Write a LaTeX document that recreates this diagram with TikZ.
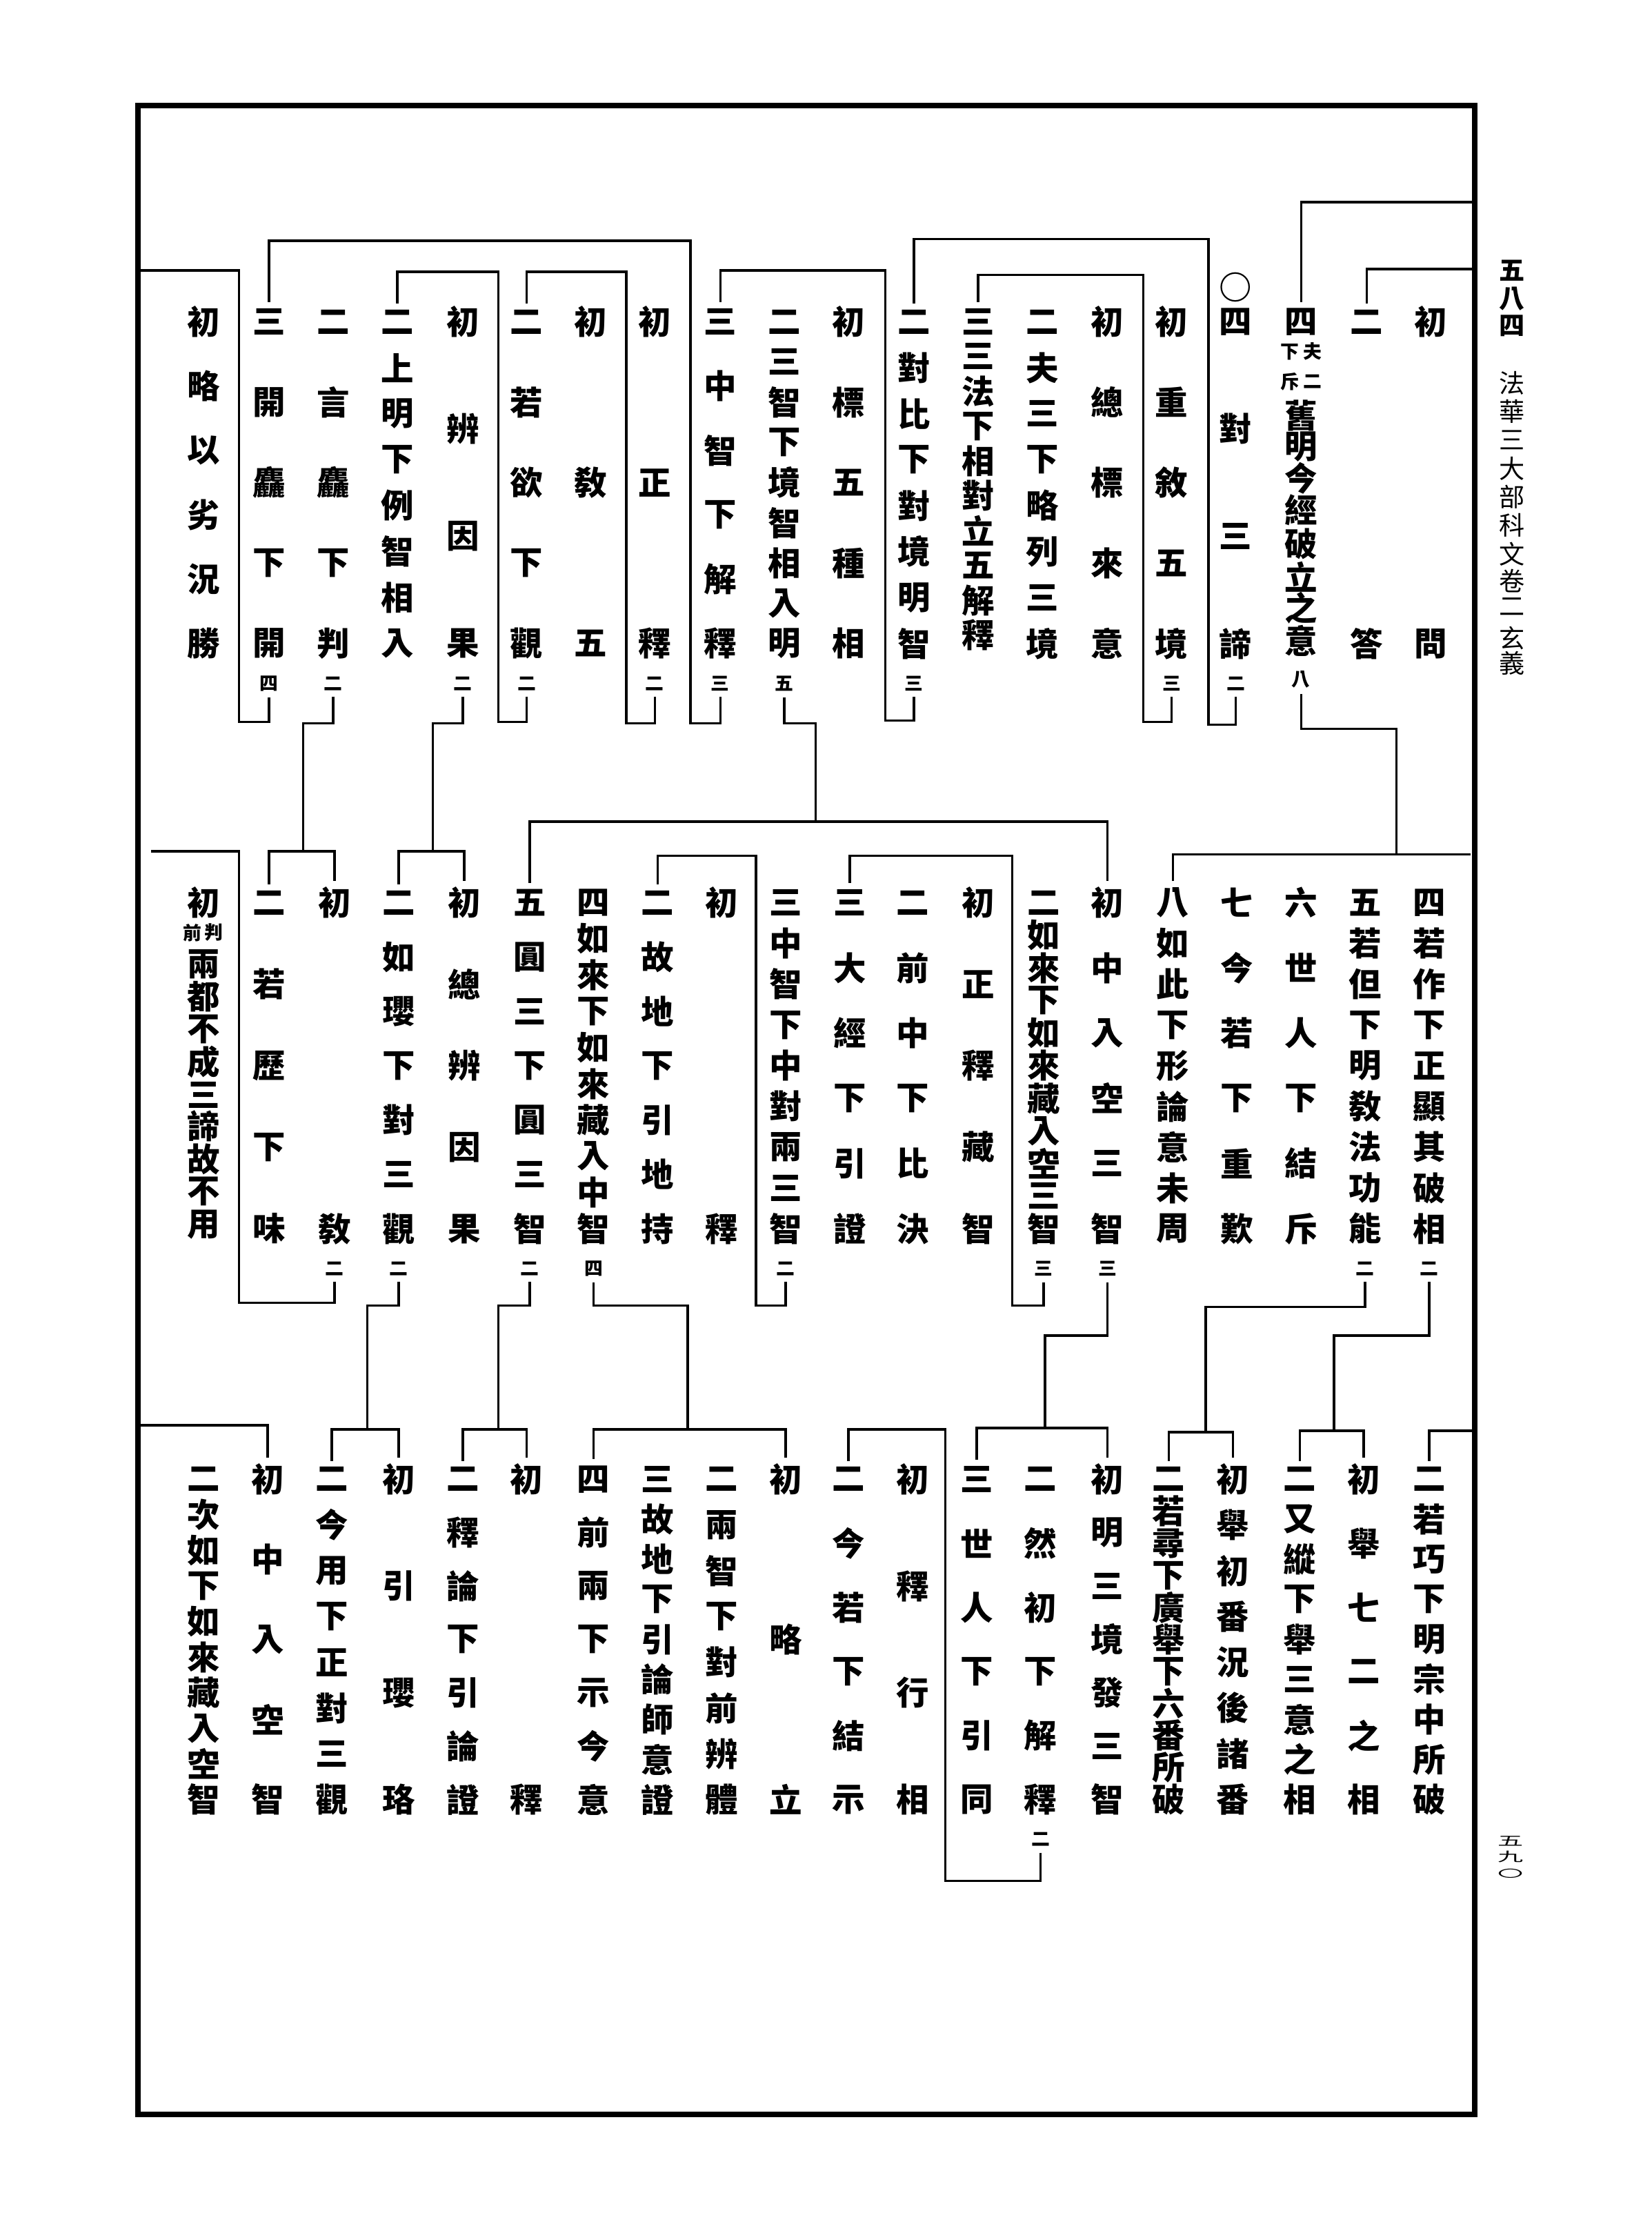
\documentclass[tikz,border=0pt]{standalone}
\usepackage{fontspec}
\usepackage{graphicx}
\newfontfamily\cjk{Noto Sans CJK TC}
\newcommand\vcol[6]{%
  \foreach \c [count=\k] in {#5} {\xdef\vcN{\k}}%
  \foreach \c [count=\k from 0] in {#5} {%
    \node[ch] (#1-\k) at (#2,{#3+\k*#4/(\vcN-1)}) {\c};}%
  \if\relax\detokenize{#6}\relax\else
    \node[sm] (#1-s) at (#2,{#3+#4+28}) {#6};\fi}
\begin{document}
\begin{tikzpicture}[x=0.5pt,y=-0.5pt,
  ch/.style={inner sep=0pt,font=\cjk\bfseries\fontsize{11.5}{11.5}\selectfont},
  sm/.style={inner sep=0pt,font=\cjk\bfseries\fontsize{6.5}{6.5}\selectfont},
  hd/.style={inner sep=0pt,font=\cjk\fontsize{9}{9}\selectfont},
  ln/.style={line width=0.85pt}]
\useasboundingbox (0,0) rectangle (1160,1567);
\fill[white] (0,0) rectangle (1160,1567);
\draw[line width=2pt] (97,74) rectangle (1036,1485);

% header
\foreach \c/\yy [count=\k] in {五/190,八/210,四/229}
  \node[hd,font=\cjk\bfseries\fontsize{9}{9}\selectfont] (hp\k) at (1062,\yy) {\c};
\foreach \c/\yy [count=\k] in {法/269,華/289,三/309,大/329,部/349,科/369,文/389,卷/408,二/426,玄/448,義/466}
  \node[hd] (ht\k) at (1062,\yy) {\c};
\node[hd] (pn1) at (1061,1293) {\scalebox{1}[0.5]{五}};
\node[hd] (pn2) at (1061,1304) {\scalebox{1}[0.5]{九}};
\node[hd] (pn3) at (1061,1316) {\scalebox{1}[0.4]{〇}};

% ---------------- tier 1
\vcol{t1a}{1005}{226}{226}{初,問}{}
\vcol{t1b}{960}{226}{226}{二,答}{}
\node[ch] (t1c-0) at (914,226) {四};
\node[sm] (t1c-a1) at (922,247) {夫};
\node[sm] (t1c-a2) at (922,268) {二};
\node[sm] (t1c-b1) at (906,247) {下};
\node[sm] (t1c-b2) at (906,268) {斥};
\foreach \c/\yy [count=\k] in {舊/292,明/314,今/336,經/358,破/382,立/405,之/427,意/450}
  \node[ch] (t1c-\k) at (914,\yy) {\c};
\node[sm] (t1c-s) at (914,477) {八};
\node[ch] (t1d-o) at (868,202) {○};
\vcol{t1d}{868}{226}{226}{四,對,三,諦}{二}
\vcol{t1e}{823}{226}{226}{初,重,敘,五,境}{三}
\vcol{t1f}{778}{226}{226}{初,總,標,來,意}{}
\vcol{t1g}{732}{226}{226}{二,夫,三,下,略,列,三,境}{}
\vcol{t1h}{687}{226}{220}{三,三,法,下,相,對,立,五,解,釋}{}
\vcol{t1i}{642}{226}{226}{二,對,比,下,對,境,明,智}{三}
\vcol{t1j}{596}{226}{226}{初,標,五,種,相}{}
\vcol{t1k}{551}{226}{226}{二,三,智,下,境,智,相,入,明}{五}
\vcol{t1l}{506}{226}{226}{三,中,智,下,解,釋}{三}
\vcol{t1m}{460}{226}{226}{初,正,釋}{二}
\vcol{t1n}{415}{226}{226}{初,敎,五}{}
\vcol{t1o}{370}{226}{226}{二,若,欲,下,觀}{二}
\vcol{t1p}{325}{226}{226}{初,辨,因,果}{二}
\vcol{t1q}{279}{226}{226}{二,上,明,下,例,智,相,入}{}
\vcol{t1r}{234}{226}{226}{二,言,麤,下,判}{二}
\vcol{t1s}{189}{226}{226}{三,開,麤,下,開}{四}
\vcol{t1t}{143}{226}{226}{初,略,以,劣,況,勝}{}

% ---------------- tier 2
\vcol{t2a}{1004}{634}{229}{四,若,作,下,正,顯,其,破,相}{二}
\vcol{t2b}{959}{634}{229}{五,若,但,下,明,敎,法,功,能}{二}
\vcol{t2c}{914}{634}{229}{六,世,人,下,結,斥}{}
\vcol{t2d}{869}{634}{229}{七,今,若,下,重,歎}{}
\vcol{t2e}{824}{634}{229}{八,如,此,下,形,論,意,未,周}{}
\vcol{t2f}{778}{634}{229}{初,中,入,空,三,智}{三}
\vcol{t2g}{733}{634}{229}{二,如,來,下,如,來,藏,入,空,三,智}{三}
\vcol{t2h}{687}{634}{229}{初,正,釋,藏,智}{}
\vcol{t2i}{641}{634}{229}{二,前,中,下,比,決}{}
\vcol{t2j}{597}{634}{229}{三,大,經,下,引,證}{}
\vcol{t2k}{552}{634}{229}{三,中,智,下,中,對,兩,三,智}{二}
\vcol{t2l}{507}{634}{229}{初,釋}{}
\vcol{t2m}{462}{634}{229}{二,故,地,下,引,地,持}{}
\vcol{t2n}{417}{634}{229}{四,如,來,下,如,來,藏,入,中,智}{四}
\vcol{t2o}{372}{634}{229}{五,圓,三,下,圓,三,智}{二}
\vcol{t2p}{326}{634}{229}{初,總,辨,因,果}{}
\vcol{t2q}{280}{634}{229}{二,如,瓔,下,對,三,觀}{二}
\vcol{t2r}{235}{634}{229}{初,敎}{二}
\vcol{t2s}{189}{634}{229}{二,若,歷,下,味}{}
\node[ch] (t2t-0) at (143,634) {初};
\node[sm] (t2t-a) at (150,655) {判};
\node[sm] (t2t-b) at (135,655) {前};
\foreach \c/\yy [count=\k] in {兩/677,都/700,不/723,成/746,三/769,諦/791,故/814,不/837,用/860}
  \node[ch] (t2t-\k) at (143,\yy) {\c};

% ---------------- tier 3
\vcol{t3a}{1004}{1039}{225}{二,若,巧,下,明,宗,中,所,破}{}
\vcol{t3b}{958}{1039}{225}{初,舉,七,二,之,相}{}
\vcol{t3c}{913}{1039}{225}{二,又,縱,下,舉,三,意,之,相}{}
\vcol{t3d}{866}{1039}{225}{初,舉,初,番,況,後,諸,番}{}
\vcol{t3e}{821}{1039}{225}{二,若,尋,下,廣,舉,下,六,番,所,破}{}
\vcol{t3f}{778}{1039}{225}{初,明,三,境,發,三,智}{}
\vcol{t3g}{731}{1039}{225}{二,然,初,下,解,釋}{二}
\vcol{t3h}{686}{1039}{225}{三,世,人,下,引,同}{}
\vcol{t3i}{641}{1039}{225}{初,釋,行,相}{}
\vcol{t3j}{596}{1039}{225}{二,今,若,下,結,示}{}
\vcol{t3k}{552}{1039}{225}{初,略,立}{}
\vcol{t3l}{507}{1039}{225}{二,兩,智,下,對,前,辨,體}{}
\vcol{t3m}{462}{1039}{225}{三,故,地,下,引,論,師,意,證}{}
\vcol{t3n}{417}{1039}{225}{四,前,兩,下,示,今,意}{}
\vcol{t3o}{370}{1039}{225}{初,釋}{}
\vcol{t3p}{325}{1039}{225}{二,釋,論,下,引,論,證}{}
\vcol{t3q}{280}{1039}{225}{初,引,瓔,珞}{}
\vcol{t3r}{233}{1039}{225}{二,今,用,下,正,對,三,觀}{}
\vcol{t3s}{188}{1039}{225}{初,中,入,空,智}{}
\vcol{t3t}{143}{1039}{225}{二,次,如,下,如,來,藏,入,空,智}{}

% ---------------- connectors, tier 1
\draw[ln] (1036,142) -| ([yshift=2pt]t1c-0.north);
\draw[ln] (1036,189) -| ([yshift=2pt]t1b-0.north);
\draw[ln] ([yshift=-2pt]t1c-s.south) |- (981,512) -- (981,600);
\draw[ln] ([yshift=-2pt]t1d-s.south) |- (849,509) -- (849,168) -| ([yshift=2pt]t1i-0.north);
\draw[ln] ([yshift=-2pt]t1e-s.south) |- (803,507) -- (803,193) -| ([yshift=2pt]t1h-0.north);
\draw[ln] ([yshift=-2pt]t1i-s.south) |- (622,506) -- (622,190) -| ([yshift=2pt]t1l-0.north);
\draw[ln] ([yshift=-2pt]t1k-s.south) |- (573,508) -- (573,577);
\draw[ln] ([yshift=-2pt]t1l-s.south) |- (485,508) -- (485,169) -| ([yshift=2pt]t1s-0.north);
\draw[ln] ([yshift=-2pt]t1m-s.south) |- (440,508) -- (440,191) -| ([yshift=2pt]t1o-0.north);
\draw[ln] ([yshift=-2pt]t1o-s.south) |- (350,507) -- (350,191) -| ([yshift=2pt]t1q-0.north);
\draw[ln] ([yshift=-2pt]t1p-s.south) |- (304,508) -- (304,598);
\draw[ln] ([yshift=-2pt]t1r-s.south) |- (213,508) -- (213,598);
\draw[ln] ([yshift=-2pt]t1s-s.south) |- (168,507) -- (168,190) -- (98,190);

% ---------------- connectors, tier 2
\draw[ln] ([yshift=2pt]t2e-0.north) |- (1033,600);
\draw[ln] ([yshift=2pt]t2f-0.north) |- (372,577) -- ([yshift=2pt]t2o-0.north);
\draw[ln] ([yshift=2pt]t2p-0.north) |- (304,598) -| ([yshift=2pt]t2q-0.north);
\draw[ln] ([yshift=2pt]t2r-0.north) |- (213,598) -| ([yshift=2pt]t2s-0.north);
\draw[ln] ([yshift=-2pt]t2a-s.south) |- (937,938) -- (937,1005);
\draw[ln] ([yshift=-2pt]t2b-s.south) |- (847,918) -- (847,1006);
\draw[ln] ([yshift=-2pt]t2f-s.south) |- (734,938) -- (734,1003);
\draw[ln] ([yshift=-2pt]t2g-s.south) |- (711,917) -- (711,601) -| ([yshift=2pt]t2j-0.north);
\draw[ln] ([yshift=-2pt]t2k-s.south) |- (531,917) -- (531,601) -| ([yshift=2pt]t2m-0.north);
\draw[ln] ([yshift=-2pt]t2n-s.south) |- (483,917) -- (483,1004);
\draw[ln] ([yshift=-2pt]t2o-s.south) |- (350,917) -- (350,1004);
\draw[ln] ([yshift=-2pt]t2q-s.south) |- (258,917) -- (258,1004);
\draw[ln] ([yshift=-2pt]t2r-s.south) |- (168,915) -- (168,598) -- (106,598);

% ---------------- connectors, tier 3
\draw[ln] (1036,1005) -| ([yshift=2pt]t3a-0.north);
\draw[ln] ([yshift=2pt]t3b-0.north) |- (937,1005) -| ([yshift=2pt]t3c-0.north);
\draw[ln] ([yshift=2pt]t3d-0.north) |- (847,1006) -| ([yshift=2pt]t3e-0.north);
\draw[ln] ([yshift=2pt]t3f-0.north) |- (734,1003) -| ([yshift=2pt]t3h-0.north);
\draw[ln] ([yshift=2pt]t3k-0.north) |- (483,1004) -| ([yshift=2pt]t3n-0.north);
\draw[ln] ([yshift=2pt]t3o-0.north) |- (350,1004) -| ([yshift=2pt]t3p-0.north);
\draw[ln] ([yshift=2pt]t3q-0.north) |- (258,1004) -| ([yshift=2pt]t3r-0.north);
\draw[ln] ([yshift=-2pt]t3g-s.south) |- (664,1321) -- (664,1004) -| ([yshift=2pt]t3j-0.north);
\draw[ln] (98,1001) -| ([yshift=2pt]t3s-0.north);
\end{tikzpicture}
\end{document}
